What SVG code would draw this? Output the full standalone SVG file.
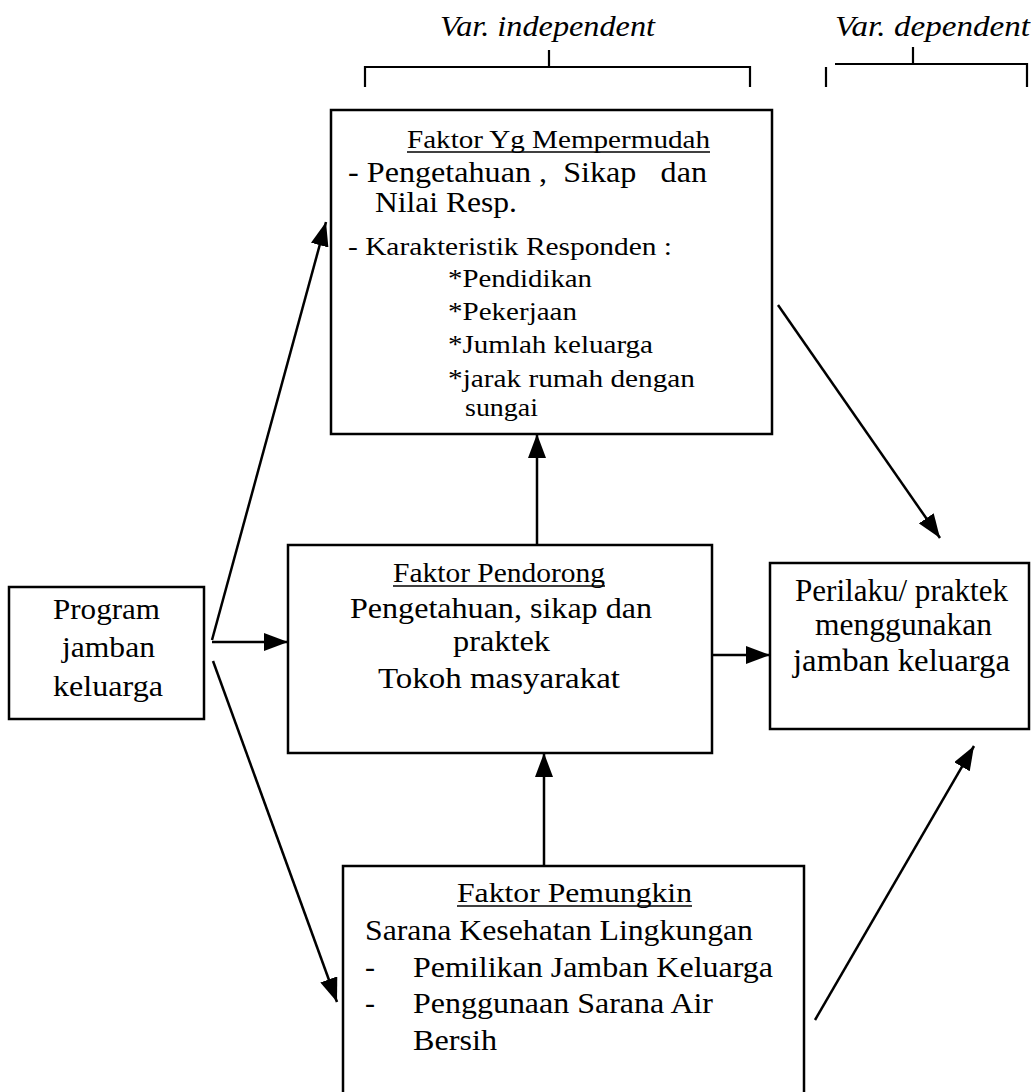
<svg xmlns="http://www.w3.org/2000/svg" width="1031" height="1092" viewBox="0 0 1031 1092">
<defs>
<style>
.box{fill:#fff;stroke:#000;stroke-width:2.5}
.t{font-family:"Liberation Serif","Times New Roman",serif;fill:#000;white-space:pre}
.hd{font-size:30px;font-style:italic}
.s25{font-size:25px}
.s27{font-size:27px}
.s29{font-size:29px}
.s30{font-size:30px}
.s31{font-size:31px}
.ul{stroke:#000;stroke-width:1.4}
.br{fill:none;stroke:#000;stroke-width:2.2}
.cn{fill:none;stroke:#000;stroke-width:2.5;marker-end:url(#ah)}
</style>
<marker id="ah" markerUnits="userSpaceOnUse" markerWidth="24" markerHeight="18" viewBox="0 0 24 18" refX="24" refY="9" orient="auto">
<path d="M0,0 L24,9 L0,18 z" fill="#000"/>
</marker>
</defs>
<rect width="1031" height="1092" fill="#fff"/>

<g id="header-independent">
<text class="t hd" x="440" y="36" textLength="215" lengthAdjust="spacingAndGlyphs">Var. independent</text>
<path class="br" d="M365,87 V67 H750 V87 M549,50 V67"/>
</g>
<g id="header-dependent">
<text class="t hd" x="835" y="36" textLength="195" lengthAdjust="spacingAndGlyphs">Var. dependent</text>
<path class="br" d="M826,67 V87 M835,64 H1027 V87 M913,47 V64"/>
</g>

<g id="node-mempermudah">
<rect class="box" x="331" y="110" width="441" height="324"/>
<text class="t s25" x="407" y="148" textLength="303" lengthAdjust="spacingAndGlyphs">Faktor Yg Mempermudah</text>
<line class="ul" x1="407" y1="152" x2="710" y2="152"/>
<text class="t s29" x="348" y="182" textLength="359" lengthAdjust="spacingAndGlyphs">- Pengetahuan ,  Sikap   dan</text>
<text class="t s29" x="375" y="212" textLength="142" lengthAdjust="spacingAndGlyphs">Nilai Resp.</text>
<text class="t s25" x="348" y="255" textLength="324" lengthAdjust="spacingAndGlyphs">- Karakteristik Responden :</text>
<text class="t s25" x="448" y="287" textLength="144" lengthAdjust="spacingAndGlyphs">*Pendidikan</text>
<text class="t s25" x="448" y="320" textLength="129" lengthAdjust="spacingAndGlyphs">*Pekerjaan</text>
<text class="t s25" x="448" y="353" textLength="205" lengthAdjust="spacingAndGlyphs">*Jumlah keluarga</text>
<text class="t s25" x="448" y="387" textLength="247" lengthAdjust="spacingAndGlyphs">*jarak rumah dengan</text>
<text class="t s25" x="465" y="416" textLength="73" lengthAdjust="spacingAndGlyphs">sungai</text>
</g>

<g id="node-program">
<rect class="box" x="9" y="587" width="195" height="132"/>
<text class="t s30" x="53" y="619" textLength="107" lengthAdjust="spacingAndGlyphs">Program</text>
<text class="t s30" x="62" y="657" textLength="93" lengthAdjust="spacingAndGlyphs">jamban</text>
<text class="t s30" x="53" y="696" textLength="110" lengthAdjust="spacingAndGlyphs">keluarga</text>
</g>

<g id="node-pendorong">
<rect class="box" x="288" y="545" width="424" height="208"/>
<text class="t s27" x="393" y="582" textLength="212" lengthAdjust="spacingAndGlyphs">Faktor Pendorong</text>
<line class="ul" x1="393" y1="586" x2="605" y2="586"/>
<text class="t s30" x="350" y="618" textLength="302" lengthAdjust="spacingAndGlyphs">Pengetahuan, sikap dan</text>
<text class="t s30" x="453" y="651" textLength="97" lengthAdjust="spacingAndGlyphs">praktek</text>
<text class="t s30" x="378" y="688" textLength="242" lengthAdjust="spacingAndGlyphs">Tokoh masyarakat</text>
</g>

<g id="node-perilaku">
<rect class="box" x="770" y="563" width="259" height="166"/>
<text class="t s31" x="795" y="601" textLength="213" lengthAdjust="spacingAndGlyphs">Perilaku/ praktek</text>
<text class="t s31" x="815" y="635" textLength="177" lengthAdjust="spacingAndGlyphs">menggunakan</text>
<text class="t s31" x="793" y="671" textLength="217" lengthAdjust="spacingAndGlyphs">jamban keluarga</text>
</g>

<g id="node-pemungkin">
<rect class="box" x="343" y="866" width="461" height="240"/>
<text class="t s27" x="457" y="902" textLength="235" lengthAdjust="spacingAndGlyphs">Faktor Pemungkin</text>
<line class="ul" x1="457" y1="906" x2="692" y2="906"/>
<text class="t s30" x="365" y="940" textLength="388" lengthAdjust="spacingAndGlyphs">Sarana Kesehatan Lingkungan</text>
<text class="t s30" x="365" y="977">-</text>
<text class="t s30" x="413" y="977" textLength="360" lengthAdjust="spacingAndGlyphs">Pemilikan Jamban Keluarga</text>
<text class="t s30" x="365" y="1013">-</text>
<text class="t s30" x="413" y="1013" textLength="300" lengthAdjust="spacingAndGlyphs">Penggunaan Sarana Air</text>
<text class="t s30" x="413" y="1050" textLength="84" lengthAdjust="spacingAndGlyphs">Bersih</text>
</g>

<g id="connectors">
<line class="cn" x1="212" y1="640" x2="326" y2="222"/>
<line class="cn" x1="212" y1="642" x2="288" y2="642"/>
<line class="cn" x1="213" y1="661" x2="337" y2="1002"/>
<line class="cn" x1="537" y1="545" x2="537" y2="434"/>
<line class="cn" x1="544" y1="866" x2="544" y2="753"/>
<line class="cn" x1="712" y1="655" x2="770" y2="655"/>
<line class="cn" x1="778" y1="305" x2="940" y2="538"/>
<line class="cn" x1="815" y1="1020" x2="974" y2="746"/>
</g>
</svg>
